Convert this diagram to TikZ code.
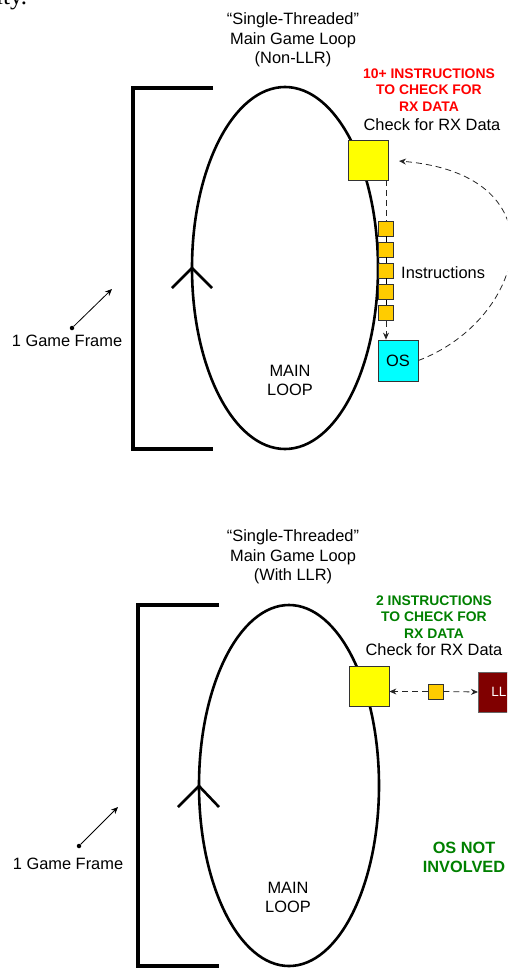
\documentclass[tikz,border=0pt]{standalone}
\usepackage{fontspec}
\setmainfont{Liberation Sans}
\newfontfamily\bodyserif{Liberation Serif}
\usetikzlibrary{arrows.meta}

\definecolor{rxyellow}{RGB}{255,255,0}
\definecolor{insgold}{RGB}{255,204,0}
\definecolor{oscyan}{RGB}{0,255,255}
\definecolor{llred}{RGB}{128,0,0}
\definecolor{warnred}{RGB}{255,0,0}
\definecolor{okgreen}{RGB}{0,128,0}

\begin{document}
\begin{tikzpicture}[
  x=1pt, y=-1pt,
  >={Stealth[length=7pt,width=6pt]},
  every node/.style={inner sep=0pt, font=\fontsize{16.4}{19.5}\selectfont},
  title/.style={align=center},
  note/.style={align=center, font=\bfseries\fontsize{13.9}{16.8}\selectfont},
  mainloop/.style={line width=2.6pt},
  bracketline/.style={line width=3.6pt},
  rxbox/.style={draw=black!80, fill=rxyellow, minimum size=40pt, line width=0.8pt},
  insbox/.style={draw=black!80, fill=insgold, minimum size=15pt, line width=0.6pt},
  osbox/.style={draw=black!80, fill=oscyan, minimum width=40pt, minimum height=41pt, line width=0.8pt},
  llbox/.style={draw=black!60, fill=llred, text=white, line width=0.8pt},
  dashline/.style={dash pattern=on 6pt off 4pt, line width=0.8pt, black!85},
  dot/.style={circle, fill=black, minimum size=4.5pt}
]
\useasboundingbox (0,0) rectangle (507,969);
\clip (0,0) rectangle (507,969);

\node[font=\bodyserif\fontsize{25}{25}\selectfont, anchor=base west] (cut) at (-4,5) {ity.};

% non-LLR loop
\node[title] (topA) at (293,40) {“Single-Threaded”\\Main Game Loop\\(Non-LLR)};
\draw[bracketline] (213,88) -- (133,88) -- (133,449) -- (213,449);
\draw[mainloop] (285,268) ellipse [x radius=93, y radius=181];
\draw[mainloop] (172,288) -- (192,268) -- (212,288);
\node[title] (mainA) at (290,380.5) {MAIN\\LOOP};

\node (gfA) at (67,341) {1 Game Frame};
\node[dot] (gfdotA) at (72,328) {};
\coordinate (gftipA) at (112,289);
\draw[->, line width=0.8pt] (gfdotA) -- (gftipA);

\node[note, text=warnred] (warnA) at (429,90) {10+ INSTRUCTIONS\\TO CHECK FOR\\RX DATA};
\node (rxlabA) at (432,125) {Check for RX Data};
\node[rxbox] (chkA) at (368,160) {};
\foreach \i/\y in {1/228.5,2/249.5,3/270.5,4/292,5/313}
  \node[insbox] (ins\i) at (386,\y) {};
\node[anchor=west] (instr) at (401,273) {Instructions};
\node[osbox] (os) at (398,360.5) {OS};

\draw[dashline] (ins1.north |- chkA.south) -- (ins1.north);
\foreach \a/\b in {1/2,2/3,3/4,4/5}
  \draw[line width=0.6pt] (ins\a.south) -- (ins\b.north);
\draw[dashline,->] (ins5.south) -- (ins5.south |- os.north);
\coordinate (backA) at (399,161);
\draw[dashline,->] (os.east) .. controls (525,320) and (565,175) .. (backA);

% LLR loop
\node[title] (topB) at (293,557) {“Single-Threaded”\\Main Game Loop\\(With LLR)};
\draw[bracketline] (219,605) -- (138,605) -- (138,966) -- (219,966);
\draw[mainloop] (289,785.5) ellipse [x radius=90, y radius=180.5];
\draw[mainloop] (178,807) -- (199,786) -- (219,807);
\node[title] (mainB) at (288,897.5) {MAIN\\LOOP};

\node (gfB) at (68,864) {1 Game Frame};
\node[dot] (gfdotB) at (79,846) {};
\coordinate (gftipB) at (118,807);
\draw[->, line width=0.8pt] (gfdotB) -- (gftipB);

\node[note, text=okgreen] (warnB) at (434,617) {2 INSTRUCTIONS\\TO CHECK FOR\\RX DATA};
\node (rxlabB) at (434,650) {Check for RX Data};
\node[rxbox] (chkB) at (369,686) {};
\node[insbox] (insB) at (435.5,691.5) {};
\node[llbox, anchor=west, minimum height=40pt, text width=20pt, inner xsep=13pt,
  font=\fontsize{13.5}{16}\selectfont] (ll) at (478,692) {LL};
\draw[dashline,->] (insB.west) -- (insB.west -| chkB.east);
\draw[dashline,->] (insB.east) -- (ll.west);

\node[note, font=\bfseries\fontsize{16.3}{19}\selectfont, text=okgreen] (osnot) at (464,857) {OS NOT\\INVOLVED};
\end{tikzpicture}
\end{document}
